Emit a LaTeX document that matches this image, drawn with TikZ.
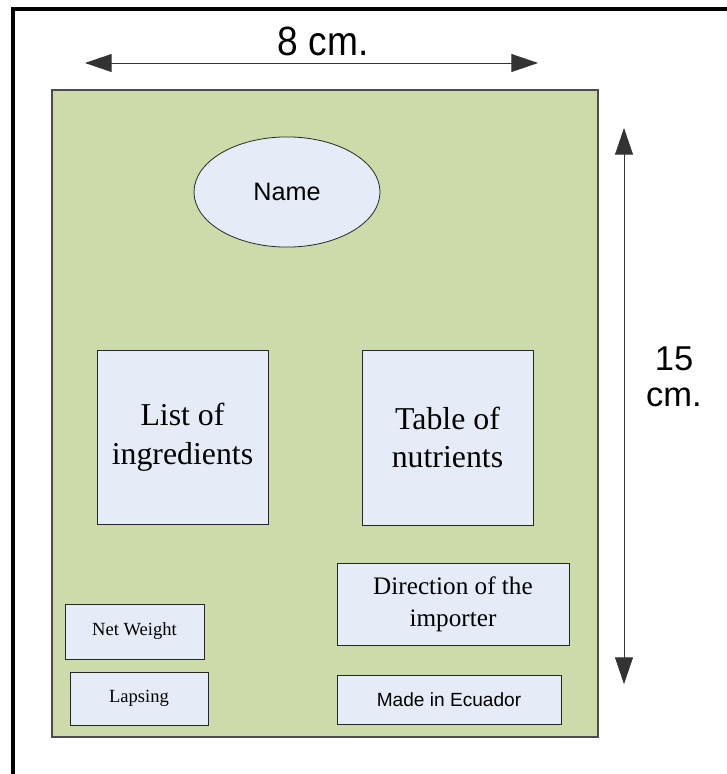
\documentclass[tikz,border=0pt]{standalone}
\usepackage{fontspec}
\setmainfont{Liberation Serif}
\setsansfont{Liberation Sans}
\usetikzlibrary{arrows.meta,shapes.geometric}
\definecolor{labelgreen}{RGB}{204,219,169}
\definecolor{boxblue}{RGB}{230,236,247}

\begin{document}
\begin{tikzpicture}[x=0.0265cm,y=-0.0265cm,
        infobox/.style={draw=black!85,fill=boxblue,line width=0.6pt,inner sep=0pt,align=center},
        dimarrow/.style={{Triangle[length=20pt,width=13.5pt]}-{Triangle[length=20pt,width=13.5pt]},line width=0.5pt,black!80}]
        \useasboundingbox (0,0) rectangle (726,774);
        \draw[line width=3pt] (13,780) -- (13,9) -- (730,9);
        \draw[black!70,line width=0.8pt,fill=labelgreen] (52,90) rectangle (598,737);

        \coordinate (wleft) at (85,63);
        \coordinate (wright) at (538,63);
        \draw[dimarrow] (wleft) -- (wright);
        \node (width) [font=\sffamily\fontsize{28}{30}\selectfont,yscale=1.1] at (323,41) {8 cm.};
        \coordinate (htop) at (624,128);
        \coordinate (hbottom) at (624,684);
        \draw[dimarrow] (htop) -- (hbottom);
        \node (height) [font=\sffamily\fontsize{26}{27.5}\selectfont,align=center] at (674,377) {15\\cm.};

        \node (name) [infobox,ellipse,minimum width=4.93cm,minimum height=2.92cm,font=\sffamily\fontsize{19}{22}\selectfont] at (287,192) {Name};
        \node (list) [infobox,minimum width=4.53cm,minimum height=4.61cm,font=\fontsize{24}{29}\selectfont] at (182.5,437) {List of\\ingredients};
        \node (table) [infobox,minimum width=4.53cm,minimum height=4.64cm,font=\fontsize{24}{29}\selectfont] at (447.5,437.5) {Table of\\nutrients};
        \node (direction) [infobox,minimum width=6.15cm,minimum height=2.17cm,font=\fontsize{19}{24}\selectfont] at (453,604) {Direction of the\\importer};
        \node (weight) [infobox,minimum width=3.68cm,minimum height=1.46cm,font=\fontsize{14}{17}\selectfont] at (134.5,631.5) {Net Weight};
        \node (lapsing) [infobox,minimum width=3.66cm,minimum height=1.40cm,font=\fontsize{14}{17}\selectfont] at (139,698.5) {Lapsing};
        \node (origin) [infobox,minimum width=5.94cm,minimum height=1.30cm,font=\sffamily\fontsize{14.4}{17}\selectfont] at (449,699.5) {Made in Ecuador};
    \end{tikzpicture}
\end{document}
